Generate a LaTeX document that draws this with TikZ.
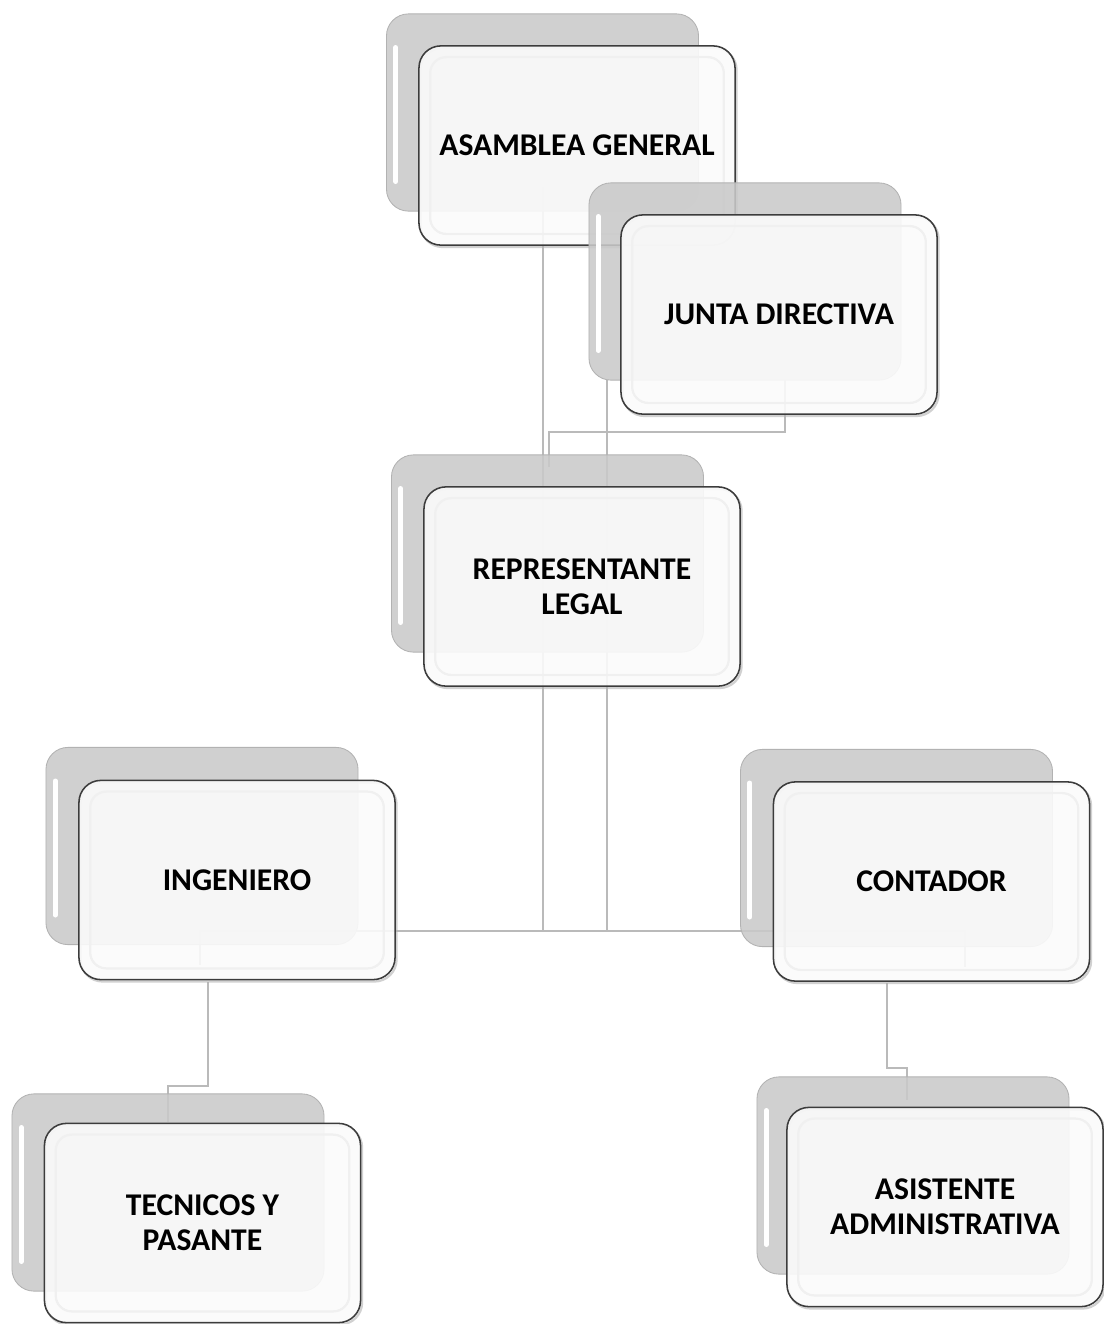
\documentclass[tikz,border=0pt]{standalone}
\usepackage{fontspec}
\setmainfont{Carlito}
\usetikzlibrary{calc}
\definecolor{backfill}{HTML}{C9C9C9}
\definecolor{frontfill}{HTML}{FBFBFB}
\definecolor{frontline}{HTML}{3C3C3C}
\definecolor{linkgray}{HTML}{BABABA}
\tikzset{
  backbox/.style={draw=gray!60, line width=0.6pt, fill=backfill, fill opacity=0.88,
    rounded corners=0.55cm, minimum width=7.8cm, minimum height=4.93cm, inner sep=0pt},
  frontbox/.style={draw=frontline, line width=1.1pt, fill=frontfill, fill opacity=0.9, text opacity=1,
    rounded corners=0.55cm, minimum width=7.9cm, minimum height=4.98cm, inner sep=0pt,
    align=center, font=\bfseries\fontsize{22.5}{24.8}\selectfont},
  frontshadow/.style={draw=gray!60, draw opacity=0.6, line width=1.6pt, rounded corners=0.55cm},
  gloss/.style={white, line width=3.5pt, line cap=round},
  innerglow/.style={gray!12, line width=1.6pt, rounded corners=0.4cm},
  link/.style={linkgray, line width=1.4pt}
}
\newcommand{\orgbox}[4]{%
  \node[backbox] (#1b) at (#2) {};
  \draw[gloss] ([xshift=0.24cm,yshift=-0.85cm]#1b.north west) -- ([xshift=0.24cm,yshift=0.75cm]#1b.south west);
  \draw[frontshadow] ($(#3)+(-156.4,-97.5)$) rectangle ($(#3)+(159.6,101.5)$);
  \node[frontbox] (#1) at (#3) {#4};
  \draw[innerglow] ([shift={(0.3cm,-0.3cm)}]#1.north west) rectangle ([shift={(-0.3cm,0.3cm)}]#1.south east);
}
\begin{document}
\begin{tikzpicture}[x=0.025cm, y=-0.025cm]
\useasboundingbox (0,0) rectangle (1104,1324);
% connector coordinates
\coordinate (a1) at (543,187);
\coordinate (a2) at (543,931);
\coordinate (j1) at (607,380);
\coordinate (j2) at (607,931);
\coordinate (k1) at (785,380);
\coordinate (k2) at (785,432);
\coordinate (k3) at (549,432);
\coordinate (k4) at (549,467);
\coordinate (i1) at (200,931);
\coordinate (i2) at (200,965);
\coordinate (c1) at (965,931);
\coordinate (c2) at (965,967);
\coordinate (t1) at (208,982);
\coordinate (t2) at (208,1086);
\coordinate (t3) at (168,1086);
\coordinate (t4) at (168,1122);
\coordinate (s1) at (887,983);
\coordinate (s2) at (887,1068);
\coordinate (s3) at (907,1068);
\coordinate (s4) at (907,1100);
% connectors
\draw[link] (a1) -- (a2);
\draw[link] (j1) -- (j2);
\draw[link] (k1) -- (k2) -- (k3) -- (k4);
\draw[link] (a2) -- (i1) -- (i2);
\draw[link] (a2) -- (c1) -- (c2);
\draw[link] (t1) -- (t2) -- (t3) -- (t4);
\draw[link] (s1) -- (s2) -- (s3) -- (s4);
% boxes
\orgbox{ag}{542.5,112.5}{577,145.5}{ASAMBLEA GENERAL}
\orgbox{jd}{745,281.5}{779,314.5}{JUNTA DIRECTIVA}
\orgbox{rl}{547.5,553.5}{582,586.5}{REPRESENTANTE\\LEGAL}
\orgbox{ing}{202,846}{237,880}{INGENIERO}
\orgbox{con}{896.5,848}{931.5,881.5}{CONTADOR}
\orgbox{tec}{168,1192.5}{202.5,1223}{TECNICOS Y\\PASANTE}
\orgbox{asi}{913,1175.5}{945,1207}{ASISTENTE\\ADMINISTRATIVA}
\end{tikzpicture}
\end{document}
